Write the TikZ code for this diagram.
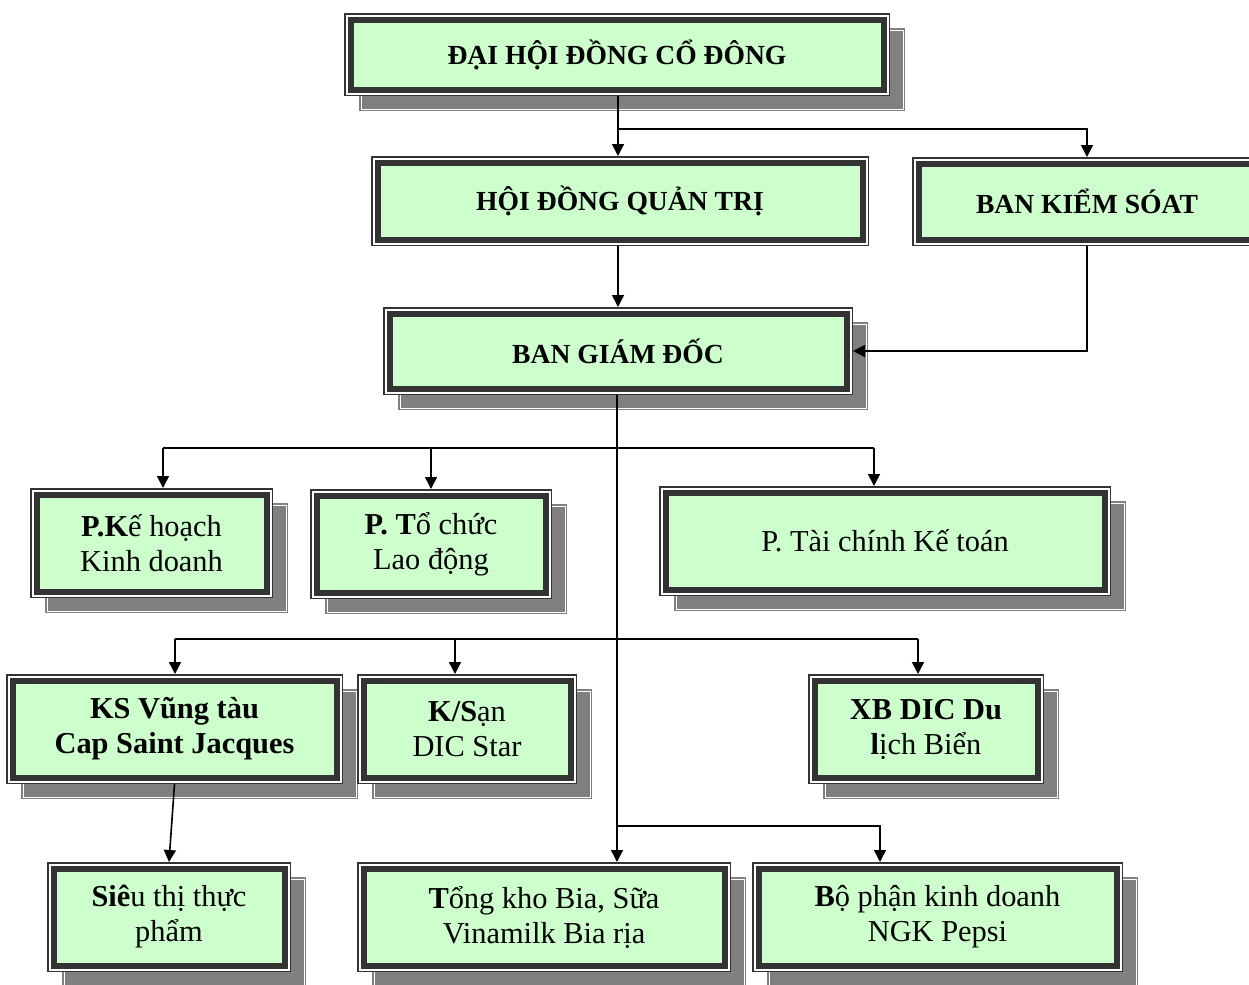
\documentclass[tikz,border=0pt]{standalone}
\usepackage{fontspec}
\setmainfont{Liberation Serif}
\usepackage{xcolor}
\usepackage{tikz}
\usetikzlibrary{arrows.meta}
\definecolor{boxgreen}{HTML}{CCFFCC}
\definecolor{boxdark}{HTML}{333333}
\definecolor{shadowgray}{HTML}{808080}
\tikzset{
  boxshadow/.style={
    preaction={fill=shadowgray, draw=shadowgray, line width=6.5pt, transform canvas={shift={(15,15)}}},
    preaction={draw=white, line width=5pt, transform canvas={shift={(15,15)}}},
    preaction={fill=shadowgray, draw=shadowgray, line width=4pt, transform canvas={shift={(15,15)}}}},
  orgbox/.style={rectangle, fill=boxgreen, draw=boxdark, line width=3pt, inner sep=0pt, outer sep=3.25pt,
    align=center, font=\fontsize{15.2pt}{17.5pt}\selectfont,
    preaction={draw=boxdark, line width=6.5pt},
    preaction={draw=white, line width=5pt}},
  headbox/.style={orgbox, font=\fontsize{13.8pt}{17pt}\selectfont\bfseries},
  link/.style={line width=0.8pt, -{Triangle[length=6pt,width=6pt]}}
}
\begin{document}
\begin{tikzpicture}[x=0.5pt, y=-0.5pt]
  \useasboundingbox (0,0) rectangle (1249,985);
  \node[boxshadow, headbox, minimum width=266.5pt, minimum height=35pt] (dhcd) at (617,54.5) {ĐẠI HỘI ĐỒNG CỔ ĐÔNG};
  \node[headbox, minimum width=242.5pt, minimum height=38.5pt] (hdqt) at (620,201) {HỘI ĐỒNG QUẢN TRỊ};
  \node[headbox, minimum width=168.5pt, minimum height=38pt] (bks) at (1087,201.5) {BAN KIỂM SÓAT};
  \node[boxshadow, headbox, minimum width=228.5pt, minimum height=37.5pt] (bgd) at (618,351) {BAN GIÁM ĐỐC};
  \node[boxshadow, orgbox, minimum width=115pt, minimum height=48.5pt] (pkh) at (151.5,543) {\textbf{P.K}ế hoạch\\Kinh doanh};
  \node[boxshadow, orgbox, minimum width=114.5pt, minimum height=48.5pt] (ptc) at (431,544) {\textbf{P. T}ổ chức\\Lao động};
  \node[boxshadow, orgbox, minimum width=219.5pt, minimum height=48.5pt] (ptckt) at (885,541) {P. Tài chính Kế toán};
  \node[boxshadow, orgbox, minimum width=162pt, minimum height=48.5pt] (ksvt) at (174.5,729) {\textbf{KS Vũng tàu}\\\textbf{Cap Saint Jacques}};
  \node[boxshadow, orgbox, minimum width=103.5pt, minimum height=48.5pt] (ksdic) at (467,729) {\textbf{K/S}ạn\\DIC Star};
  \node[boxshadow, orgbox, minimum width=111.5pt, minimum height=48.5pt] (xbdic) at (926,729) {\textbf{XB DIC Du}\\\textbf{l}ịch Biển};
  \node[boxshadow, orgbox, minimum width=115.5pt, minimum height=48.5pt] (stp) at (169,917) {\textbf{Siê}u thị thực\\phẩm};
  \node[boxshadow, orgbox, minimum width=180.5pt, minimum height=48.5pt] (tkb) at (544,917) {\textbf{T}ổng kho Bia, Sữa\\Vinamilk Bia rịa};
  \node[boxshadow, orgbox, minimum width=179pt, minimum height=48.5pt] (bpkd) at (937.5,917) {\textbf{B}ộ phận kinh doanh\\NGK Pepsi};

  \coordinate (j1) at (618,129);
  \draw[link] (dhcd.south -| j1) -- (hdqt.north -| j1);
  \draw[link] (j1) -| (bks.north);
  \draw[link] (hdqt.south -| bgd.north) -- (bgd.north);
  \draw[link] (bks.south) |- (bgd.east);

  \coordinate (r1) at (163,448);
  \coordinate (r3) at (874,448);
  \draw[line width=0.8pt] (r1) -- (r3);
  \draw[link] (r1) -- (r1 |- pkh.north);
  \draw[link] (ptc.north |- r1) -- (ptc.north);
  \draw[link] (r3) -- (r3 |- ptckt.north);

  \coordinate (s1) at (175,639);
  \coordinate (s2) at (455,639);
  \coordinate (s3) at (918,639);
  \draw[line width=0.8pt] (s1) -- (s3);
  \draw[link] (s1) -- (s1 |- ksvt.north);
  \draw[link] (s2) -- (s2 |- ksdic.north);
  \draw[link] (s3) -- (s3 |- xbdic.north);

  \coordinate (c1) at (617,826);
  \coordinate (c2) at (880,826);
  \draw[link] (bgd.south -| c1) -- (c1 |- tkb.north);
  \draw[link] (c1) -- (c2) -- (c2 |- bpkd.north);
  \draw[link] (ksvt.south) -- (stp.north);
\end{tikzpicture}
\end{document}
